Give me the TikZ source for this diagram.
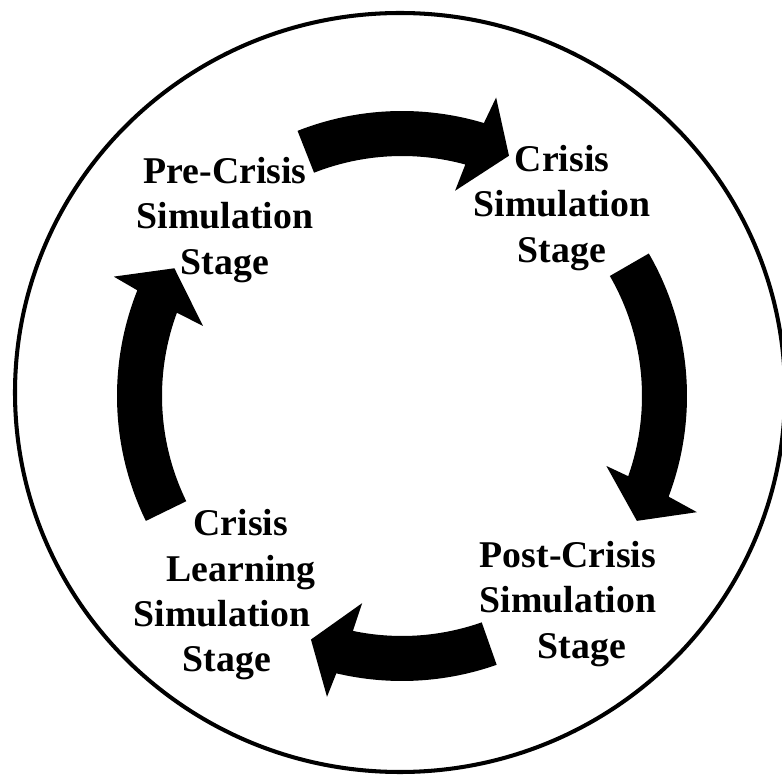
\documentclass[tikz,border=0pt]{standalone}
\usepackage{fontspec}
\setmainfont{Liberation Serif}
\begin{document}
\begin{tikzpicture}[x=0.02cm,y=0.02cm,
  ringarrow/.style={fill=black,draw=none},
  stagelabel/.style={align=center,inner sep=0pt,
    font=\fontsize{21.5pt}{25.8pt}\selectfont\bfseries}]
\useasboundingbox (0,0) rectangle (782,775);
% outer ring
\draw[line width=2.3pt] (400,382.5) ellipse [x radius=385, y radius=379.5];
% labels
\node[stagelabel] (pre) at (225,555) {Pre-Crisis\\Simulation\\Stage};
\node[stagelabel] (sim) at (562,567) {Crisis\\Simulation\\Stage};
\node[stagelabel] (post) at (568,171) {Post-Crisis\\Simulation\\\hspace*{16pt}Stage};
\node[stagelabel] (learn) at (222,180) {\hspace*{21.5pt}Crisis\\\hspace*{21.5pt}Learning\\Simulation\\\hspace*{5.7pt}Stage};
% curved arrows
\begin{scope}[shift={(402,379)}]
\coordinate (c) at (0,0);
\fill[ringarrow] (111.5:285) arc[start angle=111.5, end angle=73.3, radius=285]
  -- (72.5:313) -- (66:263) -- (75.5:212) -- (74.7:240)
  arc[start angle=74.7, end angle=111.5, radius=240] -- cycle;
\fill[ringarrow] (30:285) arc[start angle=30, end angle=-20.68, radius=285]
  -- (-21.5:317) -- (-28:266) -- (-18.9:216) -- (-19.52:240)
  arc[start angle=-19.52, end angle=30, radius=240] -- cycle;
\fill[ringarrow] (-70.6:285) arc[start angle=-70.6, end angle=-103.32, radius=285]
  -- (-104:310) -- (-110.5:260) -- (-100.9:211) -- (-101.81:240)
  arc[start angle=-101.81, end angle=-70.6, radius=240] -- cycle;
\fill[ringarrow] (206:285) arc[start angle=206, end angle=158.23, radius=285]
  -- (157.5:312) -- (150.7:261) -- (160.6:211) -- (159.71:240)
  arc[start angle=159.71, end angle=206, radius=240] -- cycle;
\end{scope}
\end{tikzpicture}
\end{document}
